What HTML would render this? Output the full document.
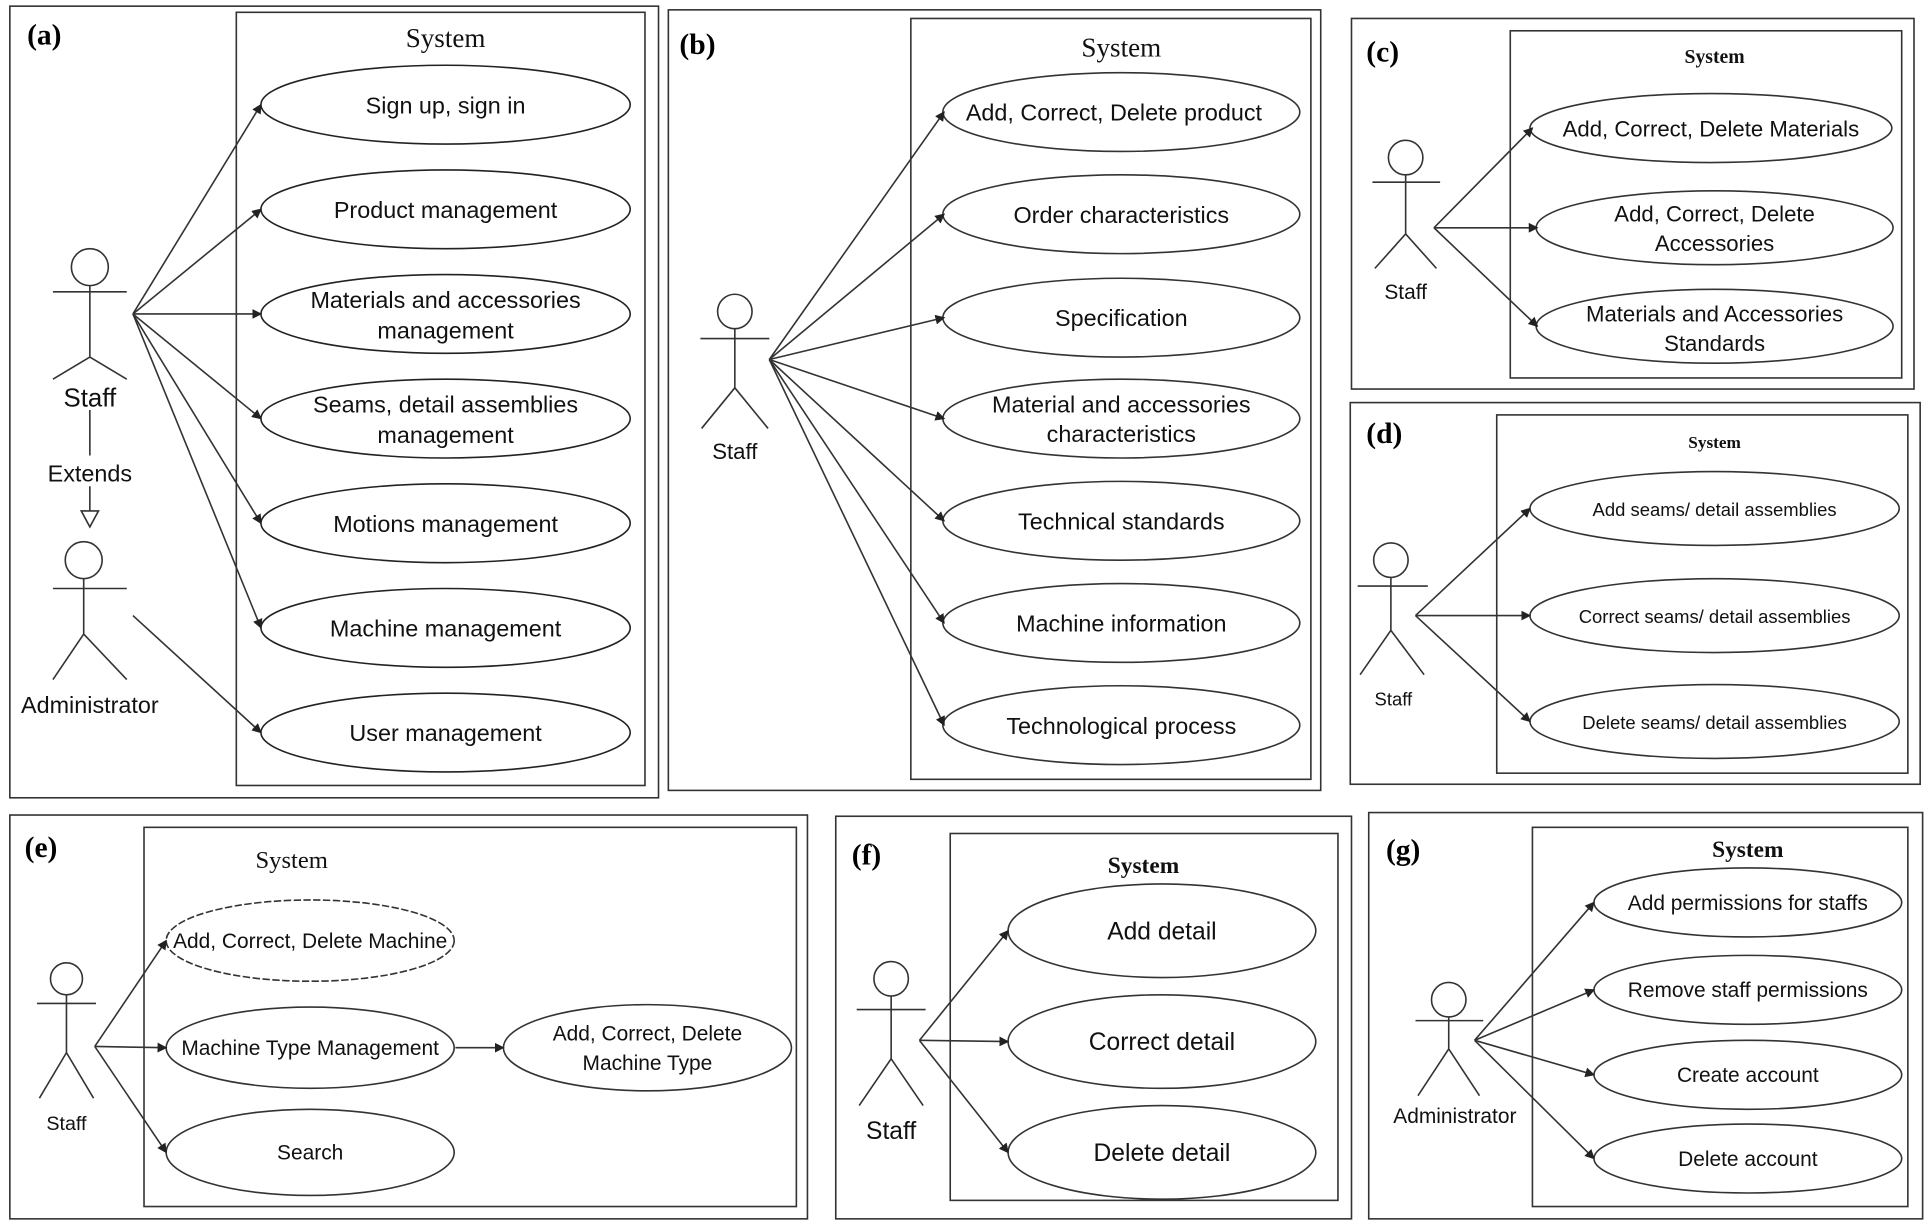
<!DOCTYPE html>
<html><head><meta charset="utf-8"><style>
html,body{margin:0;padding:0;background:#fff;width:1930px;height:1225px;overflow:hidden}
svg{display:block}
.s{font-family:"Liberation Sans",sans-serif;fill:#111;text-anchor:middle}
.sv{font-family:"Liberation Serif",serif;fill:#111;text-anchor:middle}
.lb{font-family:"Liberation Serif",serif;font-weight:bold;fill:#000;font-size:24px}
</style></head><body>
<svg width="1930" height="1225" viewBox="0 0 1568 995" preserveAspectRatio="none" xmlns="http://www.w3.org/2000/svg">
<defs>
<marker id="a" markerWidth="8" markerHeight="8" refX="7" refY="4" orient="auto" markerUnits="userSpaceOnUse"><path d="M0,0 L8,4 L0,8 z" fill="#222"/></marker>
</defs>
<g fill="none" stroke="#333" stroke-width="1.3">
<rect x="8" y="5" width="527" height="643"/>
<rect x="192" y="10" width="332" height="628"/>
<g stroke="#222"><ellipse cx="362" cy="85" rx="150" ry="32"/><ellipse cx="362" cy="170" rx="150" ry="32"/><ellipse cx="362" cy="255" rx="150" ry="32"/><ellipse cx="362" cy="340" rx="150" ry="32"/><ellipse cx="362" cy="425" rx="150" ry="32"/><ellipse cx="362" cy="510" rx="150" ry="32"/><ellipse cx="362" cy="595" rx="150" ry="32"/></g>
<circle cx="73" cy="217" r="15"/><path d="M73 232V290M43 237H103M73 290L43 308M73 290L103 308"/>
<path d="M73 333V370M73 395V415"/><path d="M66 415H80L73 428Z" fill="#fff"/>
<circle cx="68" cy="455" r="15"/><path d="M68 470V515M43 478H103M68 515L43 552M68 515L103 552"/>
<g marker-end="url(#a)"><path d="M108 255L212 85"/><path d="M108 255L212 170"/><path d="M108 255L212 255"/><path d="M108 255L212 340"/><path d="M108 255L212 425"/><path d="M108 255L212 510"/><path d="M108 500L212 595"/></g>
<rect x="543" y="8" width="530" height="634"/>
<rect x="740" y="15" width="325" height="618"/>
<g><ellipse cx="911" cy="91" rx="145" ry="32"/><ellipse cx="911" cy="174" rx="145" ry="32"/><ellipse cx="911" cy="258" rx="145" ry="32"/><ellipse cx="911" cy="340" rx="145" ry="32"/><ellipse cx="911" cy="423" rx="145" ry="32"/><ellipse cx="911" cy="506" rx="145" ry="32"/><ellipse cx="911" cy="589" rx="145" ry="32"/></g>
<circle cx="597" cy="253" r="14"/><path d="M597 267V315M569 275H625M597 315L570 348M597 315L624 348"/>
<g marker-end="url(#a)"><path d="M625 292L767 91"/><path d="M625 292L767 174"/><path d="M625 292L767 258"/><path d="M625 292L767 340"/><path d="M625 292L767 423"/><path d="M625 292L767 506"/><path d="M625 292L767 589"/></g>
<rect x="1098" y="15" width="457" height="301"/>
<rect x="1227" y="25" width="318" height="282"/>
<ellipse cx="1390" cy="104" rx="147" ry="28"/><ellipse cx="1393" cy="185" rx="145" ry="30"/><ellipse cx="1393" cy="265" rx="145" ry="30"/>
<circle cx="1142" cy="128" r="14"/><path d="M1142 142V190M1115 148H1170M1142 190L1117 218M1142 190L1167 218"/>
<g marker-end="url(#a)"><path d="M1165 185L1245 104"/><path d="M1165 185L1249 185"/><path d="M1165 185L1249 265"/></g>
<rect x="1097" y="327" width="463" height="310"/>
<rect x="1216" y="337" width="334" height="291"/>
<ellipse cx="1393" cy="413" rx="150" ry="30"/><ellipse cx="1393" cy="500" rx="150" ry="30"/><ellipse cx="1393" cy="586" rx="150" ry="30"/>
<circle cx="1130" cy="455" r="14"/><path d="M1130 469V512M1103 476H1160M1130 512L1105 548M1130 512L1157 548"/>
<g marker-end="url(#a)"><path d="M1150 500L1243 413"/><path d="M1150 500L1243 500"/><path d="M1150 500L1243 586"/></g>
<rect x="8" y="662" width="648" height="328"/>
<rect x="117" y="672" width="530" height="308"/>
<ellipse cx="252" cy="764" rx="117" ry="33" stroke-dasharray="6 2"/><ellipse cx="252" cy="851" rx="117" ry="33"/><ellipse cx="252" cy="936" rx="117" ry="35"/><ellipse cx="526" cy="851" rx="117" ry="35"/>
<circle cx="54" cy="795" r="13"/><path d="M54 808V855M30 815H78M54 855L32 892M54 855L76 892"/>
<g marker-end="url(#a)"><path d="M77 850L135 764"/><path d="M77 850L135 851"/><path d="M77 850L135 936"/><path d="M370 851L409 851"/></g>
<rect x="679" y="663" width="419" height="327"/>
<rect x="772" y="677" width="315" height="298"/>
<ellipse cx="944" cy="756" rx="125" ry="38"/><ellipse cx="944" cy="846" rx="125" ry="38"/><ellipse cx="944" cy="936" rx="125" ry="38"/>
<circle cx="724" cy="795" r="14"/><path d="M724 809V860M696 820H752M724 860L698 898M724 860L750 898"/>
<g marker-end="url(#a)"><path d="M747 845L819 756"/><path d="M747 845L819 846"/><path d="M747 845L819 936"/></g>
<rect x="1112" y="660" width="450" height="330"/>
<rect x="1245" y="672" width="305" height="308"/>
<ellipse cx="1420" cy="733" rx="125" ry="28"/><ellipse cx="1420" cy="804" rx="125" ry="28"/><ellipse cx="1420" cy="873" rx="125" ry="28"/><ellipse cx="1420" cy="941" rx="125" ry="28"/>
<circle cx="1177" cy="812" r="14"/><path d="M1177 826V852M1150 829H1205M1177 852L1152 890M1177 852L1202 890"/>
<g marker-end="url(#a)"><path d="M1198 845L1295 733"/><path d="M1198 845L1295 804"/><path d="M1198 845L1295 873"/><path d="M1198 845L1295 941"/></g>
</g>
<text class="lb" x="22" y="36">(a)</text><text class="lb" x="552" y="44">(b)</text><text class="lb" x="1110" y="50">(c)</text><text class="lb" x="1110" y="360">(d)</text><text class="lb" x="20" y="696">(e)</text><text class="lb" x="692" y="702">(f)</text><text class="lb" x="1126" y="698">(g)</text>
<g class="sv"><text x="362" y="38" font-size="22">System</text><text x="911" y="46" font-size="22">System</text><text x="237" y="705" font-size="20">System</text></g>
<g class="sv" font-weight="bold"><text x="1393" y="51" font-size="16">System</text><text x="1393" y="364" font-size="14">System</text><text x="929" y="709" font-size="19">System</text><text x="1420" y="696" font-size="19">System</text></g>
<g class="s" font-size="19">
<text x="362" y="92">Sign up, sign in</text><text x="362" y="177">Product management</text><text x="362" y="250">Materials and accessories</text><text x="362" y="275">management</text><text x="362" y="335">Seams, detail assemblies</text><text x="362" y="360">management</text><text x="362" y="432">Motions management</text><text x="362" y="517">Machine management</text><text x="362" y="602">User management</text>
<text x="73" y="330" font-size="21">Staff</text><text x="73" y="391">Extends</text><text x="73" y="579">Administrator</text>
<text x="905" y="98">Add, Correct, Delete product</text><text x="911" y="181">Order characteristics</text><text x="911" y="265">Specification</text><text x="911" y="335">Material and accessories</text><text x="911" y="359">characteristics</text><text x="911" y="430">Technical standards</text><text x="911" y="513">Machine information</text><text x="911" y="596">Technological process</text>
<text x="597" y="373" font-size="18">Staff</text>
<text x="1390" y="111" font-size="18">Add, Correct, Delete Materials</text><text x="1393" y="180" font-size="18">Add, Correct, Delete</text><text x="1393" y="204" font-size="18">Accessories</text><text x="1393" y="261" font-size="18">Materials and Accessories</text><text x="1393" y="285" font-size="18">Standards</text>
<text x="1142" y="243" font-size="17">Staff</text>
<text x="1393" y="419" font-size="15">Add seams/ detail assemblies</text><text x="1393" y="506" font-size="15">Correct seams/ detail assemblies</text><text x="1393" y="592" font-size="15">Delete seams/ detail assemblies</text>
<text x="1132" y="573" font-size="15">Staff</text>
<text x="252" y="770" font-size="17">Add, Correct, Delete Machine</text><text x="252" y="857" font-size="17">Machine Type Management</text><text x="252" y="942" font-size="17">Search</text><text x="526" y="845" font-size="17">Add, Correct, Delete</text><text x="526" y="869" font-size="17">Machine Type</text>
<text x="54" y="918" font-size="16">Staff</text>
<text x="944" y="763" font-size="20">Add detail</text><text x="944" y="853" font-size="20">Correct detail</text><text x="944" y="943" font-size="20">Delete detail</text>
<text x="724" y="925" font-size="20">Staff</text>
<text x="1420" y="739" font-size="17">Add permissions for staffs</text><text x="1420" y="810" font-size="17">Remove staff permissions</text><text x="1420" y="879" font-size="17">Create account</text><text x="1420" y="947" font-size="17">Delete account</text>
<text x="1182" y="912" font-size="17">Administrator</text>
</g>
</svg>
</body></html>
